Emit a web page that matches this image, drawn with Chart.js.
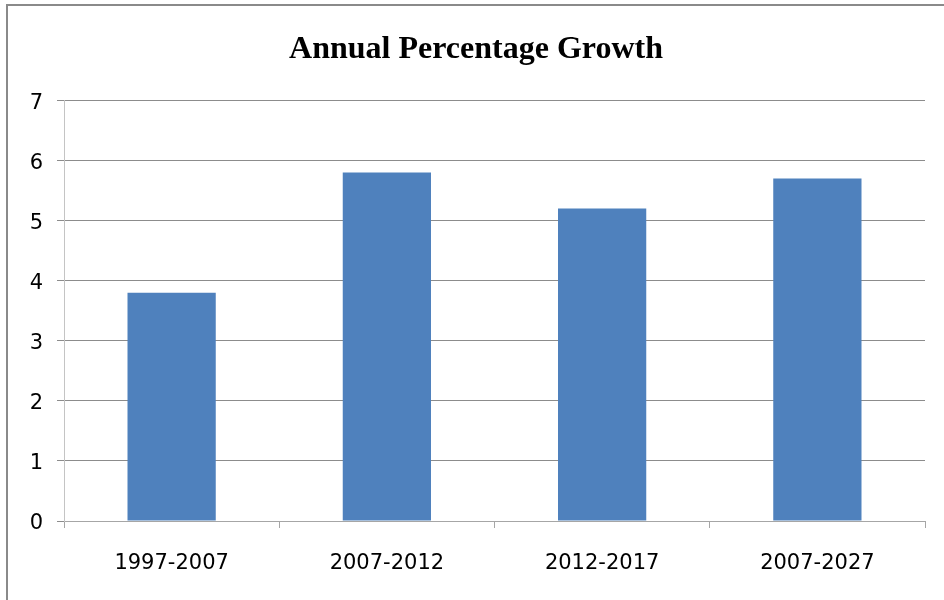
<!DOCTYPE html>
<html>
<head>
<meta charset="utf-8">
<script src="https://cdn.jsdelivr.net/npm/chart.js@4"></script>
<style>
    html, body { margin: 0; padding: 0; background: #fff; }
    #wrap { position: relative; width: 944px; height: 600px; overflow: hidden; }
    #frame { position: absolute; left: 6px; top: 4px; width: 960px; height: 620px;
             border-left: 2px solid #8a8a8a; border-top: 2px solid #8a8a8a; }
    canvas { position: absolute; left: 0; top: 0; }
</style>
</head>
<body>
<div id="wrap">
    <div id="frame"></div>
    <canvas id="growth-chart" width="944" height="600"></canvas>
</div>
<script>
const periods = ['1997-2007', '2007-2012', '2012-2017', '2007-2027'];
const growthValues = [3.8, 5.8, 5.2, 5.7];
const yTicks = [0, 1, 2, 3, 4, 5, 6, 7];

const ctx = document.getElementById('growth-chart');
const labelFont = { family: '"DejaVu Sans", "Noto Sans", sans-serif', size: 21 };

const growthChart = new Chart(ctx, {
    type: 'bar',
    data: {
        labels: periods,
        datasets: [{
            label: 'Annual Percentage Growth',
            data: growthValues,
            backgroundColor: '#4f81bd',
            borderWidth: 0,
            categoryPercentage: 1.0,
            barPercentage: 0.41
        }]
    },
    options: {
        responsive: false,
        animation: false,
        layout: {
            // uneven padding keeps the title centred where the original has it
            padding: { left: 27, right: 19, top: 0, bottom: 0 }
        },
        plugins: {
            legend: { display: false },
            tooltip: { enabled: false },
            title: {
                display: true,
                text: 'Annual Percentage Growth',
                color: '#000',
                font: { family: '"Liberation Serif", "Times New Roman", serif', size: 32, weight: 'bold' },
                padding: { top: 31, bottom: 31 }
            }
        },
        scales: {
            x: {
                grid: {
                    offset: true,
                    drawOnChartArea: false,
                    drawTicks: true,
                    tickLength: 7,
                    color: '#a6a6a6'
                },
                border: { color: '#a6a6a6', width: 1 },
                ticks: {
                    color: '#000',
                    padding: 23,
                    font: labelFont
                },
                afterFit: function(scale) {
                    scale.height = 79;
                }
            },
            y: {
                min: 0,
                max: 7,
                afterBuildTicks: function(scale) {
                    scale.ticks = yTicks.map(v => ({ value: v }));
                },
                grid: {
                    color: '#8c8c8c',
                    tickLength: 7
                },
                border: { color: '#c4c4c4', width: 1 },
                ticks: {
                    color: '#000',
                    padding: 14,
                    labelOffset: 3,
                    font: labelFont
                },
                afterFit: function(scale) {
                    scale.width = 37;
                }
            }
        }
    }
});
</script>
</body>
</html>
